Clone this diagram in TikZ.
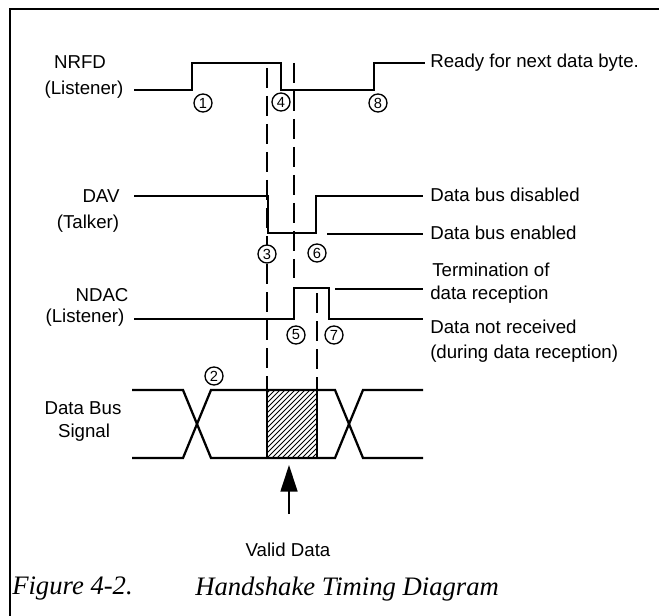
\documentclass[tikz,border=0pt]{standalone}
\usepackage{fontspec}
\setmainfont{Liberation Sans}
\newfontfamily\capfont{Liberation Serif}
\usetikzlibrary{arrows.meta}
\begin{document}
\begin{tikzpicture}[x=0.75pt,y=-0.75pt,
  sig/.style={line width=1.7pt, line join=miter, line cap=butt},
  guide/.style={line width=1.2pt, dash pattern=on 15pt off 6pt},
  num/.style={circle, draw, line width=1pt, fill=white, inner sep=0pt,
              minimum size=13.5pt, font=\fontsize{11}{11}\selectfont},
  lbl/.style={font=\fontsize{14}{16}\selectfont, inner sep=0pt},
  rlbl/.style={lbl, anchor=west},
  hatch/.style={line width=0.6pt}
]
\useasboundingbox (0,0) rectangle (659,616);
% frame
\draw[line width=2pt] (10,616) -- (10,9) -- (659,9);

% left labels
\node[lbl] (nrfd)  at (80,62)  {NRFD};
\node[lbl] (nrfdl) at (84,90)  {(Listener)};
\node[lbl] (dav)   at (101,196) {DAV};
\node[lbl] (davt)  at (88,224) {(Talker)};
\node[lbl] (ndac)  at (102,295) {NDAC};
\node[lbl] (ndacl) at (85,318) {(Listener)};
\node[lbl] (db)    at (83,408) {Data Bus};
\node[lbl] (dbs)   at (84,433) {Signal};

% right labels
\node[rlbl] (ready) at (430,63)  {Ready for next data byte.};
\node[rlbl] (dis)   at (430,195) {Data bus disabled};
\node[rlbl] (ena)   at (430,233) {Data bus enabled};
\node[rlbl] (term1) at (432,270) {Termination of};
\node[rlbl] (term2) at (430,295) {data reception};
\node[rlbl] (nrec1) at (430,327) {Data not received};
\node[rlbl] (nrec2) at (430,354) {(during data reception)};

% guide (dashed) lines
\coordinate (g1a) at (267,68);  \coordinate (g1b) at (267,390);
\coordinate (g2a) at (294,63);  \coordinate (g2b) at (294,278);
\coordinate (g3a) at (317,293); \coordinate (g3b) at (317,390);
\draw[guide] (g1a) -- (g1b);
\draw[guide] (g2a) -- (g2b);
\draw[guide] (g3a) -- (g3b);

% NRFD
\draw[sig] (134,90) -- (192,90) -- (192,63) -- (281,63) -- (281,90)
           -- (374,90) -- (374,63) -- (425,63);
% DAV
\draw[sig] (134,196) -- (268,196) -- (268,233) -- (316,233) -- (316,196) -- (423,196);
\draw[sig] (327,234) -- (423,234);
% NDAC
\draw[sig] (134,319) -- (294,319) -- (294,288) -- (329,288) -- (329,319) -- (423,319);
\draw[sig] (335,289) -- (423,289);

% data bus
\begin{scope}
  \clip (267,390) rectangle (317,458);
  \foreach \i in {-75,-70,...,50} \draw[hatch] (267+\i,458) -- ++(72,-72);
\end{scope}
\draw[sig] (132,390) -- (183,390) -- (211,458) -- (335,458) -- (363,390) -- (423,390);
\draw[sig] (132,458) -- (183,458) -- (211,390) -- (335,390) -- (363,458) -- (423,458);
\draw[sig] (267,390) -- (267,458);
\draw[sig] (317,390) -- (317,458);

% valid data arrow
\node[lbl] (valid) at (288,550) {Valid Data};
\coordinate (tip) at (289,465);
\coordinate (tail) at (289,514);
\draw[line width=1.2pt, -{Triangle[width=12.75pt,length=20pt]}] (tail) -- (tip);

% numbered circles
\node[num] (c1) at (203,103) {1};
\node[num] (c4) at (281,102) {4};
\node[num] (c8) at (378,103) {8};
\node[num] (c3) at (267,254) {3};
\node[num] (c6) at (317,253) {6};
\node[num] (c5) at (296,335) {5};
\node[num] (c7) at (334,335) {7};
\node[num] (c2) at (214,376) {2};

% caption
\node[anchor=west, inner sep=0pt, font=\capfont\itshape\fontsize{20}{22}\selectfont]
  (capa) at (12,589) {Figure 4-2.};
\node[anchor=west, inner sep=0pt, font=\capfont\itshape\fontsize{20}{22}\selectfont]
  (capb) at (195,589) {Handshake Timing Diagram};
\end{tikzpicture}
\end{document}
